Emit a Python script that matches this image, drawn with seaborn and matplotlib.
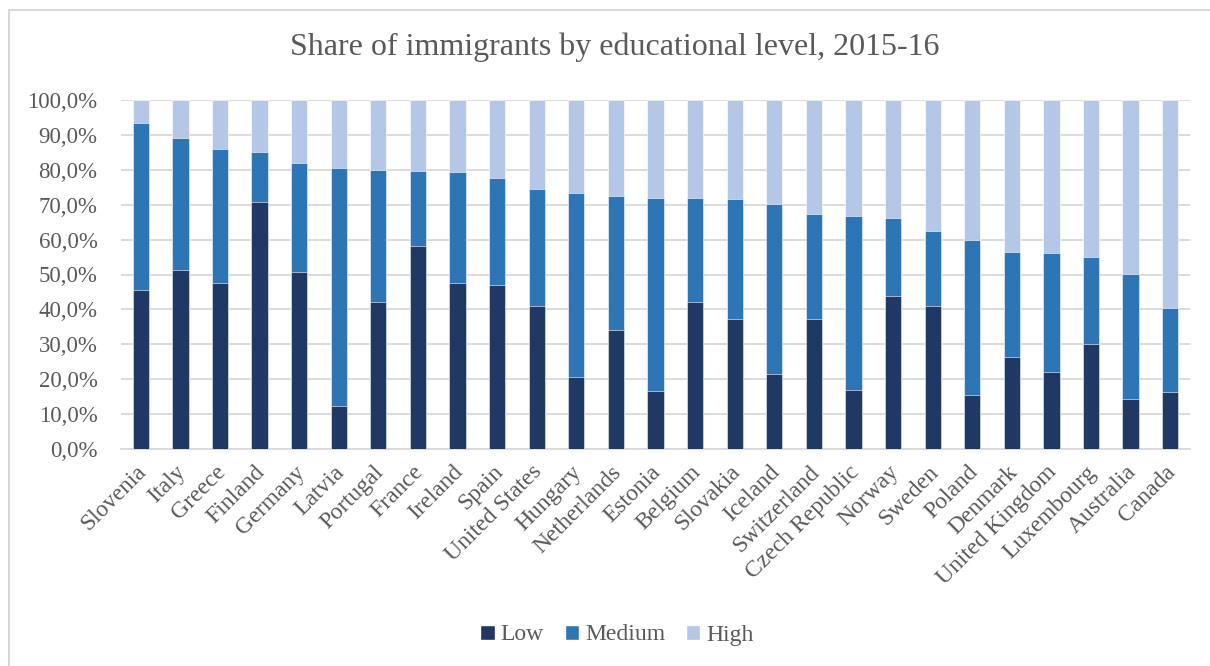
import pandas as pd
import matplotlib
matplotlib.use("Agg")
import matplotlib.pyplot as plt
import matplotlib.transforms as mtransforms
import seaborn as sns
from matplotlib.patches import Patch, Rectangle
from matplotlib.ticker import FuncFormatter

# Data (shares in %)
countries = ["Slovenia", "Italy", "Greece", "Finland", "Germany", "Latvia", "Portugal",
             "France", "Ireland", "Spain", "United States", "Hungary", "Netherlands",
             "Estonia", "Belgium", "Slovakia", "Iceland", "Switzerland", "Czech Republic",
             "Norway", "Sweden", "Poland", "Denmark", "United Kingdom", "Luxembourg",
             "Australia", "Canada"]
low = [45.7, 51.3, 47.7, 70.7, 50.6, 12.3, 42.0, 58.3, 47.6, 47.0, 41.0, 20.7, 34.2,
       16.7, 42.2, 37.3, 21.5, 37.3, 16.9, 43.9, 41.1, 15.4, 26.4, 22.1, 30.1, 14.3, 16.2]
medium = [47.6, 37.9, 38.4, 14.5, 31.4, 68.3, 38.0, 21.4, 31.7, 30.6, 33.6, 52.6, 38.3,
          55.3, 29.6, 34.3, 48.7, 30.0, 49.9, 22.2, 21.3, 44.4, 30.0, 34.1, 25.0, 35.9, 24.1]
high = [6.7, 10.8, 13.9, 14.8, 18.0, 19.4, 20.0, 20.3, 20.7, 22.4, 25.4, 26.7, 27.5,
        28.0, 28.2, 28.4, 29.8, 32.7, 33.2, 33.9, 37.6, 40.2, 43.6, 43.8, 44.9, 49.8, 59.7]

levels = ["Low", "Medium", "High"]
colors = {"Low": "#203864", "Medium": "#2E75B6", "High": "#B4C7E7"}

df = pd.DataFrame({"Country": countries, "Low": low, "Medium": medium, "High": high})
# cumulative tops for stacking
df["Low_top"] = df["Low"]
df["Medium_top"] = df["Low"] + df["Medium"]
df["High_top"] = df["Medium_top"] + df["High"]

sns.set_style("white")
plt.rcParams["font.family"] = ["Liberation Serif", "DejaVu Serif"]
text_color = "#595959"
grid_color = "#D9D9D9"

fig = plt.figure(figsize=(12.1, 6.66), dpi=100)
ax = fig.add_axes([121 / 1210, 1 - 449 / 666, (1190 - 121) / 1210, 349 / 666])

# draw from the back (tallest) to the front
for lvl in ["High", "Medium", "Low"]:
    sns.barplot(data=df, x="Country", y=lvl + "_top", color=colors[lvl], width=0.41,
                saturation=1, edgecolor="white", linewidth=0.4, ax=ax, zorder=3)

ax.set_ylim(0, 100)
ax.set_yticks(range(0, 101, 10))
ax.yaxis.set_major_formatter(FuncFormatter(lambda v, p: f"{v:.1f}%".replace(".", ",")))
ax.grid(axis="y", color=grid_color, linewidth=1.3, zorder=0)
ax.set_axisbelow(True)
for s in ["top", "right", "left"]:
    ax.spines[s].set_visible(False)
ax.spines["bottom"].set_color(grid_color)
ax.spines["bottom"].set_linewidth(1.3)
ax.set_xlabel("")
ax.set_ylabel("")
ax.tick_params(axis="both", length=0, colors=text_color)
ax.tick_params(axis="y", labelsize=16.5, pad=17)
ax.tick_params(axis="x", labelsize=17, pad=9)
shift = mtransforms.ScaledTranslation(-5 / 100, 0, fig.dpi_scale_trans)
for lab in ax.get_xticklabels():
    lab.set_rotation(45)
    lab.set_ha("right")
    lab.set_rotation_mode("anchor")
    lab.set_transform(lab.get_transform() + shift)

fig.text(0.508, 1 - 47 / 666, "Share of immigrants by educational level, 2015-16",
         ha="center", va="center", fontsize=23, color=text_color)

handles = [Patch(facecolor=colors[l], label=l) for l in levels]
fig.legend(handles=handles, loc="center", bbox_to_anchor=(0.51, 1 - 635 / 666), ncol=3,
           frameon=False, fontsize=17, handlelength=0.6, handleheight=0.6,
           handletextpad=0.25, columnspacing=0.9, labelcolor=text_color)

# chart-area border
fig.patches.append(Rectangle((9 / 1210, -0.1), 1.2, 1 - 10 / 666 + 0.1,
                             transform=fig.transFigure, fill=False,
                             edgecolor=grid_color, linewidth=1.5))

fig.savefig("out.png", dpi=100)
